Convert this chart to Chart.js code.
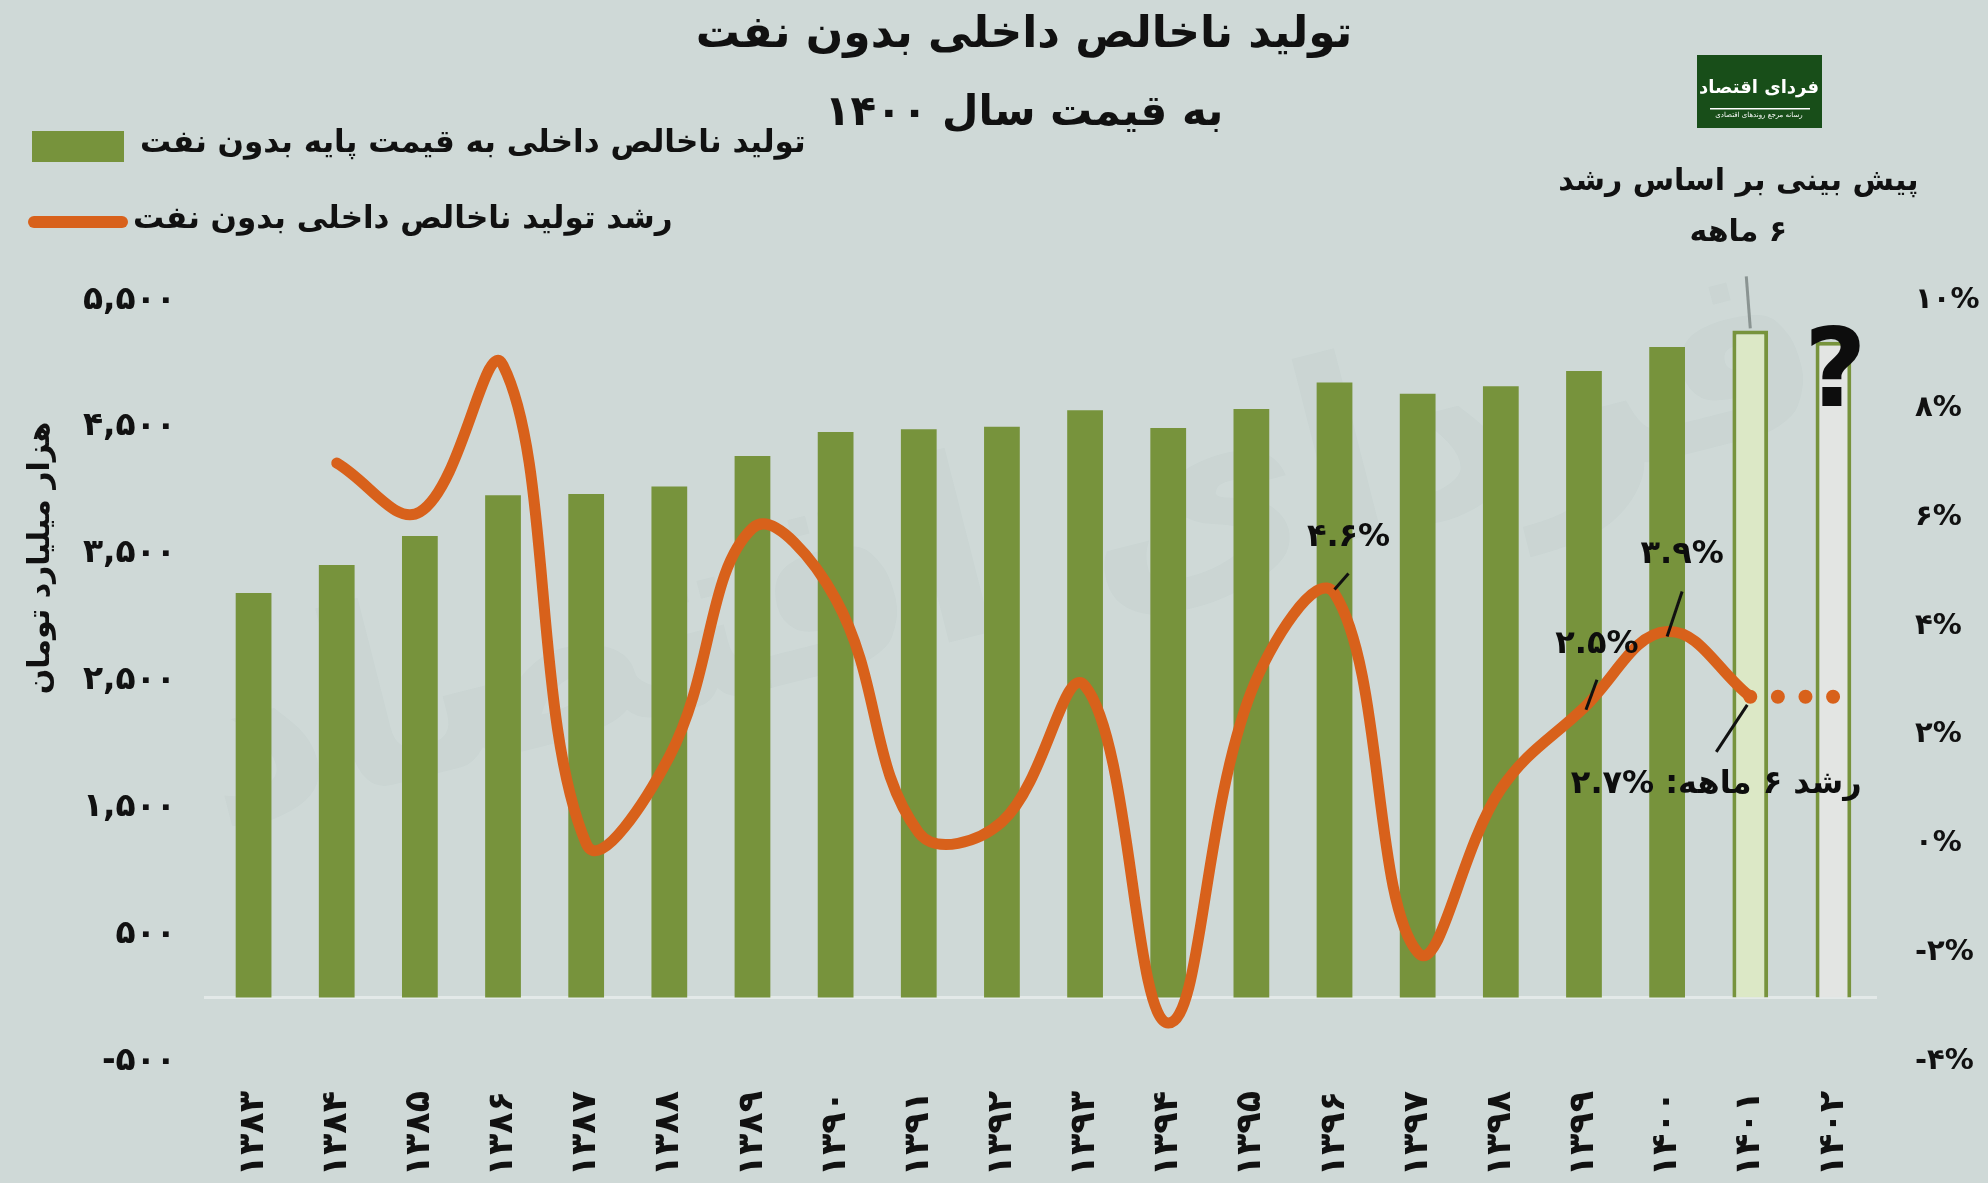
<!DOCTYPE html>
<html lang="fa">
<head>
<meta charset="utf-8">
<title>تولید ناخالص داخلی بدون نفت</title>
<script src="https://cdn.jsdelivr.net/npm/chart.js@4.4.1/dist/chart.umd.min.js"></script>
<style>
  html, body { margin: 0; padding: 0; background: #cfd9d7; }
  #wrap { width: 1988px; height: 1183px; }
</style>
</head>
<body>
<div id="wrap"><canvas id="gdpChart" width="1988" height="1183"></canvas></div>
<script>
const FONT = "'DejaVu Sans', sans-serif";

// data
const years = ['۱۳۸۳', '۱۳۸۴', '۱۳۸۵', '۱۳۸۶', '۱۳۸۷', '۱۳۸۸', '۱۳۸۹', '۱۳۹۰', '۱۳۹۱', '۱۳۹۲',
  '۱۳۹۳', '۱۳۹۴', '۱۳۹۵', '۱۳۹۶', '۱۳۹۷', '۱۳۹۸', '۱۳۹۹', '۱۴۰۰', '۱۴۰۱', '۱۴۰۲'];
const gdpNonOil = [3190, 3410, 3640, 3960, 3970, 4030, 4270, 4460, 4480, 4500,
  4630, 4490, 4640, 4850, 4760, 4820, 4940, 5130, 5260, 5170];
const growth = [null, 7.0, 6.1, 8.8, 0.0, 1.6, 5.8, 4.5, 0.2, 0.4,
  2.9, -3.3, 2.8, 4.6, -2.0, 1.0, 2.5, 3.9, 2.7, null];
const growthForecast = [null, null, null, null, null, null, null, null, null, null,
  null, null, null, null, null, null, null, null, 2.7, 2.7];
const leftTickLabels = ['-۵۰۰', '۵۰۰', '۱,۵۰۰', '۲,۵۰۰', '۳,۵۰۰', '۴,۵۰۰', '۵,۵۰۰'];
const rightTickLabels = ['-۴%', '-۲%', '۰%', '۲%', '۴%', '۶%', '۸%', '۱۰%'];
const pointLabels = ['۴.۶%', '۲.۵%', '۳.۹%', 'رشد ۶ ماهه: \u200E۲.۷%'];
const pointLabelIndex = [13, 16, 17, 18];

const titleLines = ['تولید ناخالص داخلی بدون نفت', 'به قیمت سال ۱۴۰۰'];
const barLabel = 'تولید ناخالص داخلی به قیمت پایه بدون نفت';
const lineLabel = 'رشد تولید ناخالص داخلی بدون نفت';
const yTitle = 'هزار میلیارد تومان';
const forecastNote = ['پیش بینی بر اساس رشد', '۶ ماهه'];

// styles
const BG = '#cfd9d7';
const GREEN = '#77933c';
const ORANGE = '#d8611b';
const barFill = gdpNonOil.map((v, i) => i === 18 ? '#dce8c6' : i === 19 ? '#e3e5e3' : GREEN);
const barBorder = gdpNonOil.map((v, i) => i >= 18 ? GREEN : 'rgba(0,0,0,0)');
const barBorderW = gdpNonOil.map((v, i) => i >= 18 ? 4 : 0);

// leader line / label offsets from the data point, per annotated point
const labelOffsets = [
  { a: [0, -4], b: [14, -20], t: [14, -56] },
  { a: [2, 2], b: [13, -28], t: [13, -63] },
  { a: [0, 5], b: [15, -40], t: [15, -77] },
  { a: [-3, 8], b: [-34, 55], t: [-34, 88] }
];

const decor = {
  id: 'decor',
  beforeDraw(chart) {
    const c = chart.ctx;
    c.save();
    c.fillStyle = BG;
    c.fillRect(0, 0, chart.width, chart.height);
    // faint watermark
    c.translate(1010, 560);
    c.rotate(-0.25);
    c.fillStyle = 'rgba(60,80,70,0.024)';
    c.font = 'bold 250px ' + FONT;
    c.textAlign = 'center';
    c.textBaseline = 'middle';
    c.direction = 'rtl';
    c.fillText('فردای اقتصاد', 0, 0);
    c.restore();
  },
  beforeDatasetsDraw(chart) {
    const c = chart.ctx, y = chart.scales.y, a = chart.chartArea;
    const y0 = y.getPixelForValue(0);
    c.save();
    c.strokeStyle = '#e3e9e8';
    c.lineWidth = 3;
    c.beginPath();
    c.moveTo(a.left - 8, y0);
    c.lineTo(a.right + 2, y0);
    c.stroke();
    c.restore();
  },
  afterDraw(chart) {
    const c = chart.ctx, x = chart.scales.x, yR = chart.scales.y1, y = chart.scales.y;
    c.save();
    c.fillStyle = '#111';
    c.textAlign = 'center';
    c.textBaseline = 'middle';
    c.direction = 'rtl';

    // title
    c.font = 'bold 44px ' + FONT;
    c.fillText(titleLines[0], 1024, 36);
    c.font = 'bold 42px ' + FONT;
    c.fillText(titleLines[1], 1024, 114);

    // legend
    c.fillStyle = GREEN;
    c.fillRect(32, 131, 92, 31);
    c.strokeStyle = ORANGE;
    c.lineWidth = 12;
    c.lineCap = 'round';
    c.beginPath();
    c.moveTo(34, 222);
    c.lineTo(122, 222);
    c.stroke();
    c.fillStyle = '#111';
    c.font = 'bold 31px ' + FONT;
    c.textAlign = 'left';
    c.fillText(barLabel, 140, 144);
    c.fillText(lineLabel, 133, 220);

    // y axis title
    c.save();
    c.translate(41, 558);
    c.rotate(-Math.PI / 2);
    c.textAlign = 'center';
    c.font = 'bold 30px ' + FONT;
    c.fillText(yTitle, 0, 0);
    c.restore();

    // logo
    c.fillStyle = '#184e19';
    c.fillRect(1697, 55, 125, 73);
    c.fillStyle = '#fff';
    c.textAlign = 'center';
    c.font = 'bold 18px ' + FONT;
    c.fillText('فردای اقتصاد', 1759, 88);
    c.fillRect(1710, 108, 100, 1.5);
    c.font = '7px ' + FONT;
    c.fillText('رسانه مرجع روندهای اقتصادی', 1759, 115);

    // forecast note
    const bx = x.getPixelForValue(18), by = y.getPixelForValue(gdpNonOil[18]);
    c.fillStyle = '#111';
    c.font = 'bold 30px ' + FONT;
    c.fillText(forecastNote[0], bx - 12, 182);
    c.fillText(forecastNote[1], bx - 12, 233);
    c.strokeStyle = '#8a9492';
    c.lineWidth = 3;
    c.lineCap = 'butt';
    c.beginPath();
    c.moveTo(bx - 4, by - 54);
    c.lineTo(bx, by - 2);
    c.stroke();

    // question mark over last bar
    const qx = x.getPixelForValue(19), qy = y.getPixelForValue(gdpNonOil[19]);
    c.font = 'bold 108px ' + FONT;
    c.fillStyle = '#0d0d0d';
    c.direction = 'ltr';
    c.fillText('?', qx + 2, qy + 36);

    // point labels with leader lines
    c.font = 'bold 32px ' + FONT;
    c.direction = 'rtl';
    c.strokeStyle = '#111';
    c.lineWidth = 3;
    pointLabelIndex.forEach((idx, k) => {
      const px = x.getPixelForValue(idx), py = yR.getPixelForValue(growth[idx]);
      const o = labelOffsets[k];
      c.beginPath();
      c.moveTo(px + o.a[0], py + o.a[1]);
      c.lineTo(px + o.b[0], py + o.b[1]);
      c.stroke();
      c.fillText(pointLabels[k], px + o.t[0], py + o.t[1]);
    });
    c.restore();
  }
};

const ctx = document.getElementById('gdpChart').getContext('2d');
const chart = new Chart(ctx, {
  type: 'bar',
  data: {
    labels: years,
    datasets: [
      {
        type: 'line',
        label: lineLabel,
        data: growth,
        yAxisID: 'y1',
        borderColor: ORANGE,
        borderWidth: 11,
        borderCapStyle: 'round',
        borderJoinStyle: 'round',
        tension: 0.4,
        pointRadius: 0,
        fill: false
      },
      {
        type: 'line',
        label: 'forecast',
        data: growthForecast,
        yAxisID: 'y1',
        borderColor: ORANGE,
        borderWidth: 14,
        borderCapStyle: 'round',
        borderDash: [0, 27.6],
        tension: 0,
        pointRadius: 0,
        fill: false
      },
      {
        label: barLabel,
        data: gdpNonOil,
        yAxisID: 'y',
        backgroundColor: barFill,
        borderColor: barBorder,
        borderWidth: barBorderW,
        barPercentage: 0.43,
        categoryPercentage: 1
      }
    ]
  },
  options: {
    responsive: false,
    animation: false,
    devicePixelRatio: 1,
    layout: { padding: { top: 300, left: 0, right: 0, bottom: 0 } },
    plugins: {
      legend: { display: false },
      title: { display: false },
      tooltip: { enabled: false }
    },
    scales: {
      x: {
        grid: { display: false },
        border: { display: false },
        ticks: {
          minRotation: 90,
          maxRotation: 90,
          padding: 22,
          color: '#111',
          font: { family: FONT, size: 35, weight: 'bold' }
        },
        afterFit(s) { s.height = 122; }
      },
      y: {
        position: 'left',
        min: -500,
        max: 5500,
        grid: { display: false },
        border: { display: false },
        ticks: {
          stepSize: 1000,
          padding: 28,
          color: '#111',
          font: { family: FONT, size: 33, weight: 'bold' },
          callback: (v, i) => leftTickLabels[i]
        },
        afterFit(s) { s.width = 212; }
      },
      y1: {
        position: 'right',
        min: -4,
        max: 10,
        grid: { display: false },
        border: { display: false },
        ticks: {
          stepSize: 2,
          padding: 32,
          color: '#111',
          font: { family: FONT, size: 29, weight: 'bold' },
          callback: (v, i) => rightTickLabels[i]
        },
        afterFit(s) { s.width = 113; }
      }
    }
  },
  plugins: [decor]
});
</script>
</body>
</html>
